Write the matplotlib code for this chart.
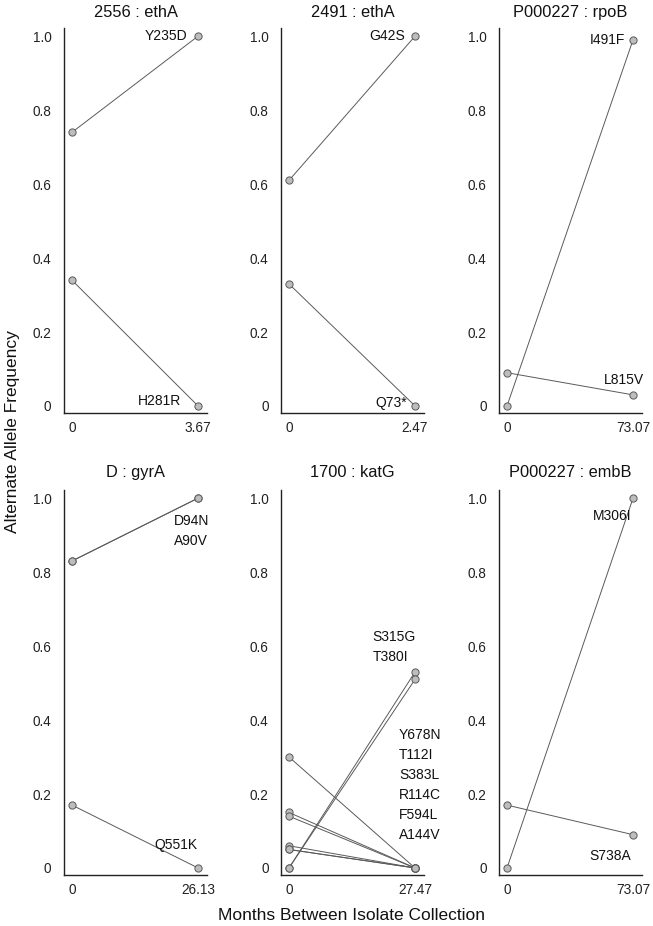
import matplotlib
matplotlib.use("Agg")
import matplotlib.pyplot as plt

plt.rcParams['font.family'] = ['Liberation Sans', 'DejaVu Sans']

# ---------------- data ----------------
titles = ["2556 : ethA", "2491 : ethA", "P000227 : rpoB",
          "D : gyrA", "1700 : katG", "P000227 : embB"]
x_end = [3.67, 2.47, 73.07, 26.13, 27.47, 73.07]
x_end_labels = ["3.67", "2.47", "73.07", "26.13", "27.47", "73.07"]

# per panel: start and end alternate allele frequencies
p1_start = [0.74, 0.34]
p1_end = [1.00, 0.00]
p2_start = [0.61, 0.33]
p2_end = [1.00, 0.00]
p3_start = [0.00, 0.09]
p3_end = [0.99, 0.03]
p4_start = [0.83, 0.83, 0.17]
p4_end = [1.00, 1.00, 0.00]
p5_start = [0.00, 0.00, 0.30, 0.15, 0.14, 0.06, 0.05, 0.05]
p5_end = [0.53, 0.51, 0.00, 0.00, 0.00, 0.00, 0.00, 0.00]
p6_start = [0.00, 0.17]
p6_end = [1.00, 0.09]

starts = [p1_start, p2_start, p3_start, p4_start, p5_start, p6_start]
ends = [p1_end, p2_end, p3_end, p4_end, p5_end, p6_end]

# mutation label groups: (text, end frequency they sit by)
p1_labels = [("Y235D", 1.00), ("H281R", 0.00)]
p2_labels = [("G42S", 1.00), ("Q73*", 0.00)]
p3_labels = [("I491F", 0.99), ("L815V", 0.03)]
p4_labels = [("D94N\nA90V", 1.00), ("Q551K", 0.00)]
p5_labels = [("S315G\nT380I", 0.53), ("Y678N\nT112I\nS383L\nR114C\nF594L\nA144V", 0.00)]
p6_labels = [("M306I", 1.00), ("S738A", 0.09)]
labels = [p1_labels, p2_labels, p3_labels, p4_labels, p5_labels, p6_labels]

y_ticks = [0, 0.2, 0.4, 0.6, 0.8, 1.0]
y_tick_labels = ["0", "0.2", "0.4", "0.6", "0.8", "1.0"]

# ---------------- layout / style ----------------
W, H = 653, 926
fig = plt.figure(figsize=(W / 100, H / 100), dpi=100)

col_left = [64, 281, 499]
ax_w = 143
row_top = [28, 490]
ax_h = 385

PX = 0.72  # points per pixel
# label placement (dx px, dy px, ha, va)
label_style = [
    [(-11, 0, "right", "center"), (-17, 5, "right", "center")],
    [(-10, 0, "right", "center"), (-8, 3, "right", "center")],
    [(-8, 0, "right", "center"), (-9, 15, "center", "center")],
    [(-6, -16, "center", "top"), (-1, 23, "right", "center")],
    [(1, 8, "right", "bottom"), (-16, 26, "left", "bottom")],
    [(-2, -18, "right", "center"), (-2, -21, "right", "center")],
]

line_color = "#5a5a5a"
spine_color = "#222222"

for i in range(6):
    r, c = divmod(i, 3)
    left = col_left[c] / W
    bottom = 1 - (row_top[r] + ax_h) / H
    ax = fig.add_axes([left, bottom, ax_w / W, ax_h / H])
    R = x_end[i]
    for s, e in zip(starts[i], ends[i]):
        ax.plot([0, R], [s, e], color=line_color, lw=0.7, zorder=2,
                marker="o", markersize=5.2, markerfacecolor="#bdbdbd",
                markeredgecolor="#5a5a5a", markeredgewidth=0.7)
    ax.set_xlim(-0.0635 * R, 1.071 * R)
    ax.set_ylim(-0.019, 1.022)
    ax.set_xticks([0, R])
    ax.set_xticklabels(["0", x_end_labels[i]])
    ax.set_yticks(y_ticks)
    ax.set_yticklabels(y_tick_labels)
    ax.tick_params(length=0, labelsize=9.8, colors="#222222")
    ax.tick_params(axis="y", pad=9)
    ax.tick_params(axis="x", pad=6)
    for sp in ["top", "right"]:
        ax.spines[sp].set_visible(False)
    for sp in ["left", "bottom"]:
        ax.spines[sp].set_color(spine_color)
        ax.spines[sp].set_linewidth(1.0)
    ax.set_title(titles[i], fontsize=11.8, pad=8 if r == 0 else 9,
                 color="#111111")
    for (txt, yv), (dx, dy, ha, va) in zip(labels[i], label_style[i]):
        ax.annotate(txt, xy=(R, yv), xytext=(dx * PX, dy * PX),
                    textcoords="offset points", ha=ha, va=va,
                    multialignment="left",
                    fontsize=10, linespacing=1.55, color="#111111",
                    annotation_clip=False)

fig.text(13 / W, 1 - 432 / H, "Alternate Allele Frequency", rotation=90,
         ha="center", va="center", fontsize=12.5, color="#111111")
fig.text(352 / W, 1 - 916 / H, "Months Between Isolate Collection",
         ha="center", va="center", fontsize=12.5, color="#111111")

fig.savefig("out.png", dpi=100)
